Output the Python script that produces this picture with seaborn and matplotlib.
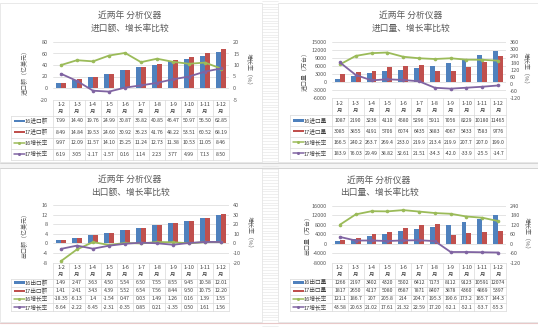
import numpy as np
import pandas as pd
import matplotlib
matplotlib.use("Agg")
import matplotlib.pyplot as plt
from matplotlib.patches import Rectangle
import seaborn as sns

sns.set_theme(style="white")
plt.rcParams['font.family'] = ['Noto Sans CJK SC', 'DejaVu Sans']
plt.rcParams['axes.unicode_minus'] = False

# ---------------- data ----------------
months = ["1-2", "1-3", "1-4", "1-5", "1-6", "1-7", "1-8", "1-9", "1-10", "1-11", "1-12"]

imp_amt_16 = ["7.99", "14.40", "19.76", "24.99", "30.87", "35.82", "40.85", "46.47", "50.97", "56.50", "62.85"]
imp_amt_17 = ["8.49", "14.84", "19.53", "24.60", "30.92", "36.23", "41.76", "48.22", "53.51", "60.52", "68.19"]
imp_amt_g16 = ["9.97", "12.09", "11.57", "14.10", "15.25", "11.24", "12.73", "11.38", "10.53", "11.05", "8.46"]
imp_amt_g17 = ["6.19", "3.05", "-1.17", "-1.57", "0.16", "1.14", "2.23", "3.77", "4.99", "7.13", "8.50"]

imp_qty_16 = ["1087", "2190", "3236", "4110", "4580", "5296", "5911", "7056", "8229", "10180", "11465"]
imp_qty_17 = ["3085", "3855", "4191", "5706", "6074", "6435", "3883", "4067", "5433", "7583", "9776"]
imp_qty_g16 = ["166.5", "240.2", "263.7", "269.4", "233.0", "219.9", "213.4", "219.9", "207.7", "207.0", "199.0"]
imp_qty_g17 = ["183.9", "76.03", "29.49", "38.82", "32.61", "21.51", "-34.3", "-42.0", "-33.9", "-25.5", "-14.7"]

exp_amt_16 = ["1.49", "2.47", "3.63", "4.50", "5.54", "6.50", "7.55", "8.55", "9.45", "10.58", "12.01"]
exp_amt_17 = ["1.41", "2.41", "3.43", "4.39", "5.52", "6.54", "7.56", "8.44", "9.50", "10.75", "12.20"]
exp_amt_g16 = ["-18.35", "-6.13", "1.4", "-1.54", "0.47", "0.03", "1.49", "1.26", "0.16", "1.39", "1.55"]
exp_amt_g17 = ["-5.64", "-2.22", "-5.45", "-2.31", "-0.35", "0.85", "0.21", "-1.35", "0.50", "1.61", "1.56"]

exp_qty_16 = ["1266", "2197", "3402", "4320", "5502", "6412", "7173", "8112", "9123", "10591", "12074"]
exp_qty_17 = ["1817", "2650", "4117", "5080", "6687", "7871", "8407", "3878", "4360", "4869", "5397"]
exp_qty_g16 = ["121.1", "186.7", "207", "205.8", "214", "204.7", "195.3", "190.6", "173.2", "165.7", "144.3"]
exp_qty_g17 = ["43.58", "20.63", "21.02", "17.61", "21.32", "22.59", "17.20", "-52.1", "-52.1", "-53.7", "-55.3"]

C_BLUE = "#4F81BD"
C_RED = "#C0504D"
C_GREEN = "#9BBB59"
C_PURPLE = "#8064A2"
TXT = "#595959"
GRID = "#d9d9d9"

W, H = 538, 327
fig = plt.figure(figsize=(W / 100, H / 100), dpi=100)
fig.patch.set_facecolor("white")

bg = fig.add_axes([0, 0, 1, 1])
bg.set_xlim(0, W)
bg.set_ylim(H, 0)
bg.axis("off")
bg.set_zorder(0)

# spreadsheet background lines
for y in np.arange(1, H, 2.8):
    bg.plot([262, 278], [y, y], color="#e4e4e4", lw=0.4)
bg.add_patch(Rectangle((0, 162), W, 6, facecolor="#f4f4f4", edgecolor="none"))
bg.plot([0, W], [162.5, 162.5], color="#cfcfcf", lw=0.6)
bg.plot([0, W], [167.5, 167.5], color="#cfcfcf", lw=0.6)
bg.plot([0, W], [322.5, 322.5], color="#e8c8c8", lw=0.8)

panels_px = [(0, 3, 262, 162), (278, 3, 538, 162), (0, 168, 262, 322), (278, 168, 538, 322)]
for (x0, y0, x1, y1) in panels_px:
    bg.add_patch(Rectangle((x0, y0), x1 - x0, y1 - y0, facecolor="white", edgecolor="#e0e0e0", lw=0.5))


def px_axes(x0, y0, x1, y1):
    return fig.add_axes([x0 / W, 1 - y1 / H, (x1 - x0) / W, (y1 - y0) / H])


def draw_table(leg_left, x_left, x_right, y_top, hdr_h, row_h, labels, kinds, colors, rows):
    cw = (x_right - x_left) / len(months)
    y_hb = y_top + hdr_h
    y_bot = y_hb + row_h * len(rows)
    kw = dict(color=GRID, lw=0.5)
    bg.plot([x_left, x_right], [y_top, y_top], **kw)
    for i in range(len(rows) + 1):
        yy = y_hb + i * row_h
        bg.plot([leg_left, x_right], [yy, yy], **kw)
    for j in range(len(months) + 1):
        xx = x_left + j * cw
        bg.plot([xx, xx], [y_top, y_bot], **kw)
    bg.plot([leg_left, leg_left], [y_hb, y_bot], **kw)
    for j, m in enumerate(months):
        xc = x_left + (j + 0.5) * cw
        bg.text(xc, y_top + hdr_h * 0.32, m, ha="center", va="center", fontsize=3.9, color="#404040")
        bg.text(xc, y_top + hdr_h * 0.74, "月", ha="center", va="center", fontsize=3.9, color="#404040")
    for i, (lab, kind, col, vals) in enumerate(zip(labels, kinds, colors, rows)):
        yc = y_hb + (i + 0.5) * row_h
        sx0, sx1 = leg_left + 2.5, leg_left + 13.5
        if kind == "bar":
            bg.add_patch(Rectangle((sx0, yc - 1.3), sx1 - sx0, 2.6, facecolor=col, edgecolor="none"))
        else:
            bg.plot([sx0, sx1], [yc, yc], color=col, lw=1.1)
            bg.plot([(sx0 + sx1) / 2], [yc], marker="o", ms=2.2, color=col, mew=0)
        bg.text(sx1 + 0.5, yc, lab, ha="left", va="center", fontsize=4.1, color="#404040")
        for j, v in enumerate(vals):
            bg.text(x_left + (j + 0.5) * cw, yc, v, ha="center", va="center", fontsize=3.7, color="#404040")


def panel(cfg):
    (x0, y0, x1, y1) = cfg["plot"]
    ax = px_axes(x0, y0, x1, y1)
    ax.set_zorder(2)
    vals16 = [float(v) for v in cfg["b16"]]
    vals17 = [float(v) for v in cfg["b17"]]
    df = pd.DataFrame({
        "month": months * 2,
        "value": vals16 + vals17,
        "series": [cfg["labels"][0]] * len(months) + [cfg["labels"][1]] * len(months),
    })
    sns.barplot(data=df, x="month", y="value", hue="series", palette=[C_BLUE, C_RED],
                width=0.62, saturation=1, legend=False, ax=ax, zorder=2, linewidth=0)
    ax.set_xlim(-0.5, len(months) - 0.5)
    ax.set_ylim(*cfg["ylim"])
    ax.set_yticks(cfg["yticks"])
    ax.set_yticklabels([str(t) for t in cfg["yticks"]])
    ax.set_xticks([])
    ax.set_xlabel("")
    ax.set_ylabel("")
    ax.yaxis.grid(True, color=GRID, lw=0.5)
    ax.set_axisbelow(True)
    for s in ax.spines.values():
        s.set_visible(False)
    ax.tick_params(axis="y", length=0, labelsize=4, labelcolor=TXT, pad=3.6)
    ax.patch.set_alpha(0)

    ax2 = ax.twinx()
    idx = np.arange(len(months))
    g16 = [float(v) for v in cfg["g16"]]
    g17 = [float(v) for v in cfg["g17"]]
    sns.lineplot(x=idx, y=g16, ax=ax2, color=C_GREEN, lw=1.3, marker="o", markersize=2.6, markeredgewidth=0)
    sns.lineplot(x=idx, y=g17, ax=ax2, color=C_PURPLE, lw=1.3, marker="o", markersize=2.6, markeredgewidth=0)
    ax2.set_ylim(*cfg["ylim2"])
    ax2.set_yticks(cfg["yticks2"])
    ax2.set_yticklabels([str(t) for t in cfg["yticks2"]])
    ax2.set_ylabel("")
    ax2.grid(False)
    for s in ax2.spines.values():
        s.set_visible(False)
    ax2.tick_params(axis="y", length=0, labelsize=4, labelcolor=TXT, pad=3)
    ax.set_xlim(-0.5, len(months) - 0.5)

    tx, ty1, ty2 = cfg["title_pos"]
    bg.text(tx, ty1, "近两年 分析仪器", ha="center", va="center", fontsize=6.3, color=TXT)
    bg.text(tx, ty2, cfg["title2"], ha="center", va="center", fontsize=6.3, color=TXT)
    lx, rx = cfg["label_x"]
    yc = (y0 + y1) / 2
    bg.text(lx, yc, cfg["ylabel"], rotation=90, ha="center", va="center", fontsize=4.3, color=TXT)
    bg.text(rx, yc, "增长率（%）", rotation=270, ha="center", va="center", fontsize=4.3, color=TXT)

    draw_table(cfg["leg_left"], x0, x1, y1, cfg["hdr_h"], cfg["row_h"],
               cfg["labels"] + cfg["glabels"], ["bar", "bar", "line", "line"],
               [C_BLUE, C_RED, C_GREEN, C_PURPLE],
               [cfg["b16"], cfg["b17"], cfg["g16"], cfg["g17"]])


configs = [
    dict(plot=(53, 42, 229, 99.5), ylim=(-20, 80), yticks=[-20, 0, 20, 40, 60, 80],
         ylim2=(-5, 20), yticks2=[-5, 0, 5, 10, 15, 20],
         b16=imp_amt_16, b17=imp_amt_17, g16=imp_amt_g16, g17=imp_amt_g17,
         labels=["16进口额", "17进口额"], glabels=["16增长率", "17增长率"],
         title2="进口额、增长率比较", title_pos=(130, 15, 28), label_x=(25, 249),
         ylabel="进口额（亿美元）", leg_left=11, hdr_h=16, row_h=11),
    dict(plot=(332, 42, 506, 97.7), ylim=(-6000, 15000), yticks=[-6000, -3000, 0, 3000, 6000, 9000, 12000, 15000],
         ylim2=(-120, 360), yticks2=[-120, -60, 0, 60, 120, 180, 240, 300, 360],
         b16=imp_qty_16, b17=imp_qty_17, g16=imp_qty_g16, g17=imp_qty_g17,
         labels=["16进口量", "17进口量"], glabels=["16增长率", "17增长率"],
         title2="进口量、增长率比较", title_pos=(411, 15, 28), label_x=(304, 526),
         ylabel="进口量（万台）", leg_left=290, hdr_h=17, row_h=11),
    dict(plot=(53, 205, 229, 262.7), ylim=(-8, 16), yticks=[-8, -4, 0, 4, 8, 12, 16],
         ylim2=(-20, 40), yticks2=[-20, -10, 0, 10, 20, 30, 40],
         b16=exp_amt_16, b17=exp_amt_17, g16=exp_amt_g16, g17=exp_amt_g17,
         labels=["16出口额", "17出口额"], glabels=["16增长率", "17增长率"],
         title2="出口额、增长率比较", title_pos=(130, 179, 192), label_x=(25, 250),
         ylabel="出口额（亿美元）", leg_left=11, hdr_h=16, row_h=8.1),
    dict(plot=(332, 206, 506, 262.7), ylim=(-8000, 16000), yticks=[-8000, -4000, 0, 4000, 8000, 12000, 16000],
         ylim2=(-120, 240), yticks2=[-120, -60, 0, 60, 120, 180, 240],
         b16=exp_qty_16, b17=exp_qty_17, g16=exp_qty_g16, g17=exp_qty_g17,
         labels=["16出口量", "17出口量"], glabels=["16增长率", "17增长率"],
         title2="出口量、增长率比较", title_pos=(379, 180, 192), label_x=(307, 527),
         ylabel="出口量（万台）", leg_left=290, hdr_h=16, row_h=8.1),
]

for cfg in configs:
    panel(cfg)

fig.savefig("out.png", dpi=100, facecolor="white")
